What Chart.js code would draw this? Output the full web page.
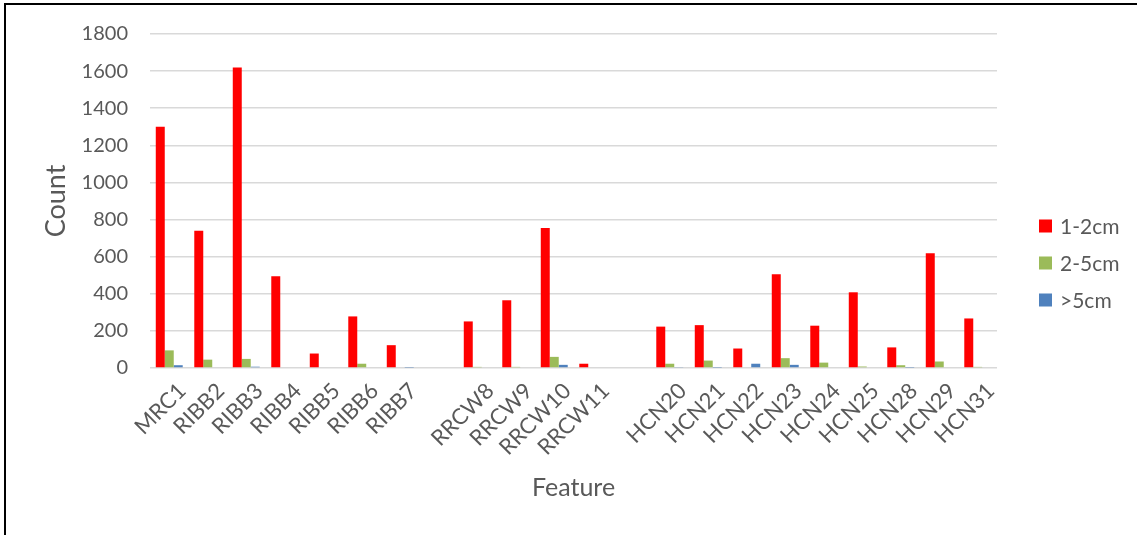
<!DOCTYPE html>
<html>
<head>
<meta charset="utf-8">
<script src="https://cdn.jsdelivr.net/npm/chart.js@4/dist/chart.umd.min.js"></script>
<style>
  html, body { margin: 0; padding: 0; background: #ffffff; }
  #wrap { position: relative; width: 1137px; height: 535px; overflow: hidden; }
  #frame { position: absolute; left: 4px; top: 3px; width: 1200px; height: 600px;
           border-top: 2px solid #000; border-left: 2px solid #000; }
  canvas { position: absolute; left: 0; top: 0; }
</style>
</head>
<body>
<div id="wrap">
  <div id="frame"></div>
  <canvas id="c" width="1137" height="535"></canvas>
</div>
<script>
// Features (empty strings separate the three site groups)
const features = ['MRC1','RIBB2','RIBB3','RIBB4','RIBB5','RIBB6','RIBB7','',
                  'RRCW8','RRCW9','RRCW10','RRCW11','',
                  'HCN20','HCN21','HCN22','HCN23','HCN24','HCN25','HCN28','HCN29','HCN31'];

// Counts per size class
const size1to2 = [1300, 740, 1620, 495, 78, 278, 123, null,
                  251, 365, 755, 23, null,
                  223, 231, 105, 505, 228, 408, 111, 618, 267];
const size2to5 = [95, 45, 49, 0, 0, 23, 0, null,
                  6, 6, 60, 0, null,
                  23, 40, 4, 53, 29, 8, 15, 35, 6];
const sizeOver5 = [15, 0, 7, 0, 0, 0, 2, null,
                   0, 0, 17, 0, null,
                   5, 2, 23, 17, 0, 0, 2, 0, 0];

const seriesNames = ['1-2cm', '2-5cm', '>5cm'];
const yTicks = [0, 200, 400, 600, 800, 1000, 1200, 1400, 1600, 1800];

const textColor = '#595959';
const fontFamily = 'Lato, "Open Sans", sans-serif';

// Legend drawn to the right of the plot, vertically centred on the canvas
const sideLegend = {
  id: 'sideLegend',
  afterDraw(chart) {
    const ctx = chart.ctx;
    ctx.save();
    ctx.font = '21px ' + fontFamily;
    ctx.textBaseline = 'middle';
    ctx.textAlign = 'left';
    const x = 1039, y0 = 226, gap = 37, box = 13;
    chart.data.datasets.forEach((ds, i) => {
      const y = y0 + i * gap;
      ctx.fillStyle = ds.backgroundColor;
      ctx.fillRect(x, y - box / 2, box, box);
      ctx.fillStyle = textColor;
      ctx.fillText(ds.label, x + 21, y + 1);
    });
    ctx.restore();
  }
};

new Chart(document.getElementById('c'), {
  type: 'bar',
  data: {
    labels: features,
    datasets: [
      { label: seriesNames[0], data: size1to2, backgroundColor: '#FF0000' },
      { label: seriesNames[1], data: size2to5, backgroundColor: '#9BBB59' },
      { label: seriesNames[2], data: sizeOver5, backgroundColor: '#4F81BD' }
    ]
  },
  options: {
    responsive: false,
    animation: false,
    devicePixelRatio: 1,
    datasets: { bar: { categoryPercentage: 0.7, barPercentage: 1.0 } },
    layout: { padding: { left: 40, right: 140, top: 33, bottom: 30 } },
    plugins: {
      legend: { display: false },
      tooltip: { enabled: false }
    },
    scales: {
      x: {
        grid: { display: false, drawTicks: false },
        border: { display: false },
        ticks: {
          color: textColor,
          font: { family: fontFamily, size: 22 },
          maxRotation: 45, minRotation: 45,
          autoSkip: false,
          padding: 10,
          labelOffset: 13
        },
        title: {
          display: true, text: 'Feature', color: textColor,
          font: { family: fontFamily, size: 25 },
          padding: { top: 0, bottom: 2 }
        },
        afterFit(scale) { scale.height = 535 - 30 - 368; }
      },
      y: {
        min: 0, max: 1800,
        afterBuildTicks(scale) { scale.ticks = yTicks.map(v => ({ value: v })); },
        grid: { color: '#D9D9D9', lineWidth: 1.5, drawTicks: false },
        border: { display: false },
        ticks: {
          color: textColor,
          font: { family: fontFamily, size: 20 },
          padding: 22,
          callback: (v) => String(v)
        },
        title: {
          display: true, text: 'Count', color: textColor,
          font: { family: fontFamily, size: 27 },
          padding: { top: 0, bottom: 0 }
        },
        afterFit(scale) { scale.width = 110; }
      }
    }
  },
  plugins: [sideLegend]
});
</script>
</body>
</html>
